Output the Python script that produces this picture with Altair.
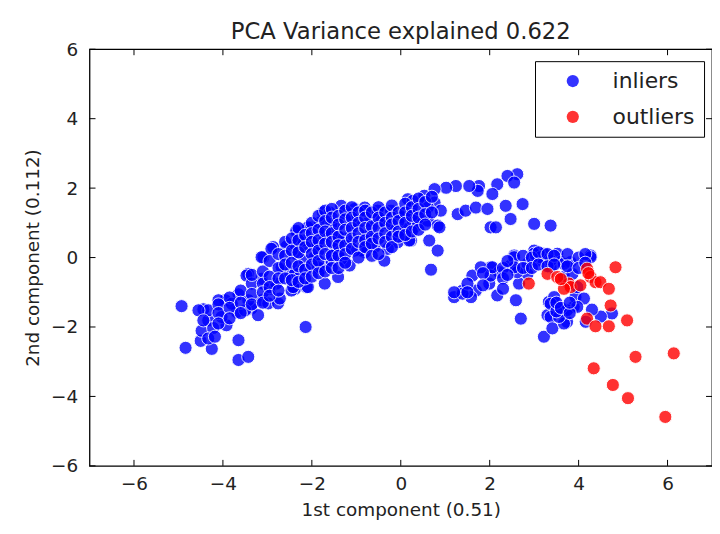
import altair as alt
import pandas as pd

# ---- data ----
inlier_points = [
    (-4.93, -1.40), (-4.84, -2.60), (-4.25, -2.63), (-4.50, -2.40), (-4.48, -2.11), (-4.33, -1.81),
    (-4.44, -1.49), (-4.22, -2.03), (-3.92, -1.95), (-3.65, -2.38), (-3.65, -2.95), (-3.43, -2.86),
    (-3.69, -1.57), (-3.95, -1.23), (-3.65, -1.06), (-3.36, -1.47), (-3.43, -1.23), (-3.13, -1.23),
    (-3.21, -1.66), (-2.98, -1.32), (-2.76, -1.32), (-2.94, -0.90), (-3.43, -0.47), (-3.13, -0.61),
    (-3.09, 0.01), (-2.87, 0.30), (-2.57, 0.32), (-2.80, -0.75), (-2.38, -0.90), (-2.50, -0.47),
    (-2.68, -0.28), (-2.35, 0.11), (-2.35, 0.73), (-2.14, -2.00), (-2.24, -0.37), (-2.72, -1.18),
    (-4.33, -1.52), (-4.55, -1.52), (-4.10, -1.23), (-4.03, -1.71), (-3.80, -1.33), (-3.50, -1.52),
    (-4.33, -2.33), (-4.44, -1.81), (-4.18, -2.28),
    (-1.75, 1.30), (-2.35, 0.77), (-2.91, 0.25), (-3.13, 0.01), (-3.47, -0.52), (-2.01, 0.87),
    (-2.12, 0.39), (-2.46, -0.95), (-2.12, -0.85), (-1.94, -0.09), (-1.71, -0.28), (-1.86, 0.39),
    (-1.56, 0.20), (-1.49, 0.87), (-1.60, 1.30),
    (0.16, 1.68), (-0.22, 1.35), (-0.52, 1.35), (-1.04, 1.40), (-1.34, 1.49), (-1.82, 1.01),
    (-2.09, 0.87), (-1.56, 0.97), (-1.23, 0.54), (-1.90, 0.34), (-1.49, 0.25), (-0.81, 0.15),
    (-0.37, -0.09), (-1.15, -0.23), (-1.41, -0.56), (-1.79, -0.32), (-2.16, -0.09), (-2.38, -0.47),
    (-2.09, -0.85), (-1.71, -0.75), (-2.42, -0.85), (-0.07, 0.44), (0.23, 0.49), (0.12, 0.82),
    (-0.18, 0.77), (-0.74, 0.63), (-0.70, 1.06), (-1.04, 0.97), (-1.34, 0.58), (-1.71, 0.63),
    (-1.94, 0.01), (-1.56, -0.09), (-0.89, 0.20), (-0.59, 0.30), (-0.29, 0.25), (-1.11, 1.25),
    (-0.81, 1.44), (-0.44, 1.06), (0.01, 1.16), (0.27, 1.06), (-2.38, 0.39), (-2.20, 0.49),
    (-1.86, -0.28), (-1.34, -0.04), (-1.04, 0.20), (-2.27, -0.56),
    (2.62, 2.40), (2.40, 2.35), (2.55, 2.16), (2.17, 2.11), (1.76, 2.06), (1.73, 1.92),
    (1.54, 2.06), (1.24, 2.06), (1.02, 2.01), (0.76, 1.97), (0.53, 1.78), (0.76, 1.58),
    (0.61, 1.44), (0.90, 1.35), (0.27, 1.63), (0.27, 1.25), (0.38, 1.01), (0.61, 1.06),
    (0.83, 0.92), (1.28, 1.25), (1.46, 1.35), (1.69, 1.44), (1.95, 1.40), (2.06, 1.83),
    (2.36, 1.49), (2.74, 1.54), (2.47, 1.11), (2.02, 0.87), (2.14, 0.87), (3.00, 0.97),
    (0.64, 0.49), (0.83, 0.20), (0.68, -0.35), (0.19, 0.49), (0.31, 0.87), (3.37, 0.92),
    (-4.1, -1.35), (-4.1, -1.6), (-4.1, -1.9),
    (-3.85, -1.15), (-3.85, -1.45), (-3.85, -1.75),
    (-3.6, -0.95), (-3.6, -1.3), (-3.6, -1.6),
    (-3.35, -0.75), (-3.35, -1.05), (-3.35, -1.35), (-3.35, -0.5),
    (-3.1, -0.4), (-3.1, -0.75), (-3.1, -1.0), (-3.1, -1.3),
    (-2.95, -0.1), (-2.95, -0.55), (-2.95, -0.85), (-2.95, -1.1),
    (-2.75, 0.1), (-2.75, -0.3), (-2.75, -0.6), (-2.75, -0.95),
    (-2.6, 0.45), (-2.6, 0.05), (-2.6, -0.2), (-2.6, -0.6),
    (-2.45, 0.55), (-2.45, 0.2), (-2.45, -0.15), (-2.45, -0.65),
    (-2.3, 0.85), (-2.3, 0.5), (-2.3, 0.15), (-2.3, -0.25), (-2.3, -0.7),
    (-2.15, 0.65), (-2.15, 0.3), (-2.15, -0.35), (-2.15, -0.6),
    (-2.0, 1.0), (-2.0, 0.7), (-2.0, 0.45), (-2.0, 0.1), (-2.0, -0.2), (-2.0, -0.55),
    (-1.85, 1.2), (-1.85, 0.8), (-1.85, 0.5), (-1.85, 0.2), (-1.85, -0.1), (-1.85, -0.45),
    (-1.7, 1.35), (-1.7, 1.05), (-1.7, 0.75), (-1.7, 0.4), (-1.7, 0.1), (-1.7, -0.4),
    (-1.55, 1.4), (-1.55, 1.15), (-1.55, 0.7), (-1.55, 0.45), (-1.55, 0.05), (-1.55, -0.3),
    (-1.4, 1.2), (-1.4, 0.95), (-1.4, 0.6), (-1.4, 0.35), (-1.4, 0.05), (-1.4, -0.3),
    (-1.25, 1.35), (-1.25, 1.1), (-1.25, 0.8), (-1.25, 0.35), (-1.25, 0.1), (-1.25, -0.15),
    (-1.1, 1.45), (-1.1, 1.15), (-1.1, 0.85), (-1.1, 0.55), (-1.1, 0.25),
    (-0.95, 1.3), (-0.95, 1.0), (-0.95, 0.7), (-0.95, 0.45), (-0.95, 0.0),
    (-0.8, 1.35), (-0.8, 1.15), (-0.8, 0.85), (-0.8, 0.5), (-0.8, 0.3),
    (-0.65, 1.3), (-0.65, 0.9), (-0.65, 0.6), (-0.65, 0.4), (-0.65, 0.05),
    (-0.5, 1.45), (-0.5, 1.15), (-0.5, 0.85), (-0.5, 0.55), (-0.5, 0.1),
    (-0.35, 1.3), (-0.35, 1.0), (-0.35, 0.7), (-0.35, 0.45),
    (-0.2, 1.5), (-0.2, 1.15), (-0.2, 0.95), (-0.2, 0.6), (-0.2, 0.3),
    (-0.05, 1.3), (-0.05, 1.05), (-0.05, 0.75), (-0.05, 0.6),
    (0.1, 1.55), (0.1, 1.3), (0.1, 1.0), (0.1, 0.65),
    (0.25, 1.45), (0.25, 1.2), (0.25, 0.75),
    (0.4, 1.7), (0.4, 1.4), (0.4, 1.15), (0.4, 0.8),
    (0.55, 1.6), (0.55, 1.25), (0.55, 0.95),
    (0.7, 1.75), (0.7, 1.3),
    (1.61, -0.52), (1.39, -0.95), (1.69, -0.95), (1.58, -1.14), (2.02, -0.28), (1.99, -0.75),
    (2.17, -1.09), (2.21, -0.42), (2.47, -0.23), (2.55, 0.06), (2.59, -1.23), (2.70, -1.76),
    (3.00, 0.20), (2.85, -0.18), (3.22, 0.11), (2.85, -0.47), (2.66, -0.75), (3.07, -0.09),
    (3.52, 0.11), (3.60, -0.13), (3.82, -0.13), (4.27, 0.06), (3.37, -0.28), (3.33, -1.28),
    (3.52, -1.47), (3.30, -1.66), (3.37, -1.71), (3.67, -1.57), (3.74, -1.85), (3.22, -2.28),
    (3.41, -2.04), (3.89, -1.42), (3.93, -1.14), (4.12, -1.18), (4.75, -1.61), (4.16, -1.85),
    (3.67, -0.56), (3.86, -0.47), (2.02, -0.52), (1.80, -0.28), (2.62, -0.42), (3.67, -0.18),
    (3.97, -0.85), (3.45, -1.14), (1.20, -1.14), (1.39, -1.04), (2.06, -0.28), (2.55, 0.01),
    (2.55, -0.28), (3.67, -1.90), (3.74, -1.52), (3.97, -1.42), (4.27, 0.01), (3.00, 0.11),
    (3.15, 0.01), (3.37, -0.09), (3.37, -1.33), (3.56, -1.71), (1.20, -1.00), (0.87, 0.87),
    (2.3, -0.3), (2.3, -0.6), (2.3, -0.9), (2.4, -0.1), (2.4, -0.5), (2.75, 0.05), (2.75, -0.3),
    (2.95, 0.0), (2.95, -0.3), (3.1, 0.15), (3.1, -0.2), (3.3, 0.1), (3.3, -0.25), (3.45, 0.05),
    (3.45, -0.2), (3.75, 0.1), (3.75, -0.25), (4.0, 0.0), (4.0, -0.3), (4.15, 0.1), (4.15, -0.15),
    (1.85, -0.45), (1.85, -0.8), (1.5, -0.75), (1.5, -1.0), (3.5, -1.55), (3.5, -1.3),
    (3.6, -1.45), (3.8, -1.6), (3.8, -1.3), (4.5, -1.7), (4.3, -1.5),
]

outlier_points = [
    (4.83, -0.28), (2.88, -0.75), (3.30, -0.47), (3.52, -0.56), (3.78, -0.75), (3.82, -0.85),
    (3.67, -0.90), (4.04, -0.80), (4.19, -0.32), (4.27, -0.56), (4.38, -0.71), (4.49, -0.71),
    (4.68, -0.90), (4.72, -1.38), (4.19, -1.76), (4.38, -1.98), (4.68, -1.98), (5.09, -1.81),
    (5.28, -2.86), (6.14, -2.76), (4.34, -3.19), (4.77, -3.67), (5.11, -4.05), (5.95, -4.59),
    (4.22, -0.45), (3.60, -0.62),
]

x_ticks = [-6, -4, -2, 0, 2, 4, 6]
y_ticks = [-6, -4, -2, 0, 2, 4, 6]
groups = ["inliers", "outliers"]
group_colors = ["#0000ff", "#ff0000"]

rows = [{"x": x, "y": y, "group": "inliers"} for x, y in inlier_points]
rows += [{"x": x, "y": y, "group": "outliers"} for x, y in outlier_points]
df = pd.DataFrame(rows)

W, H = 626, 419
FONT = "DejaVu Sans"
TXT = "#222222"

xs = alt.Scale(domain=[-7, 7], nice=False, zero=False)
ys = alt.Scale(domain=[-6, 6], nice=False, zero=False)

points = alt.Chart(df).mark_circle(
    size=175, opacity=0.8, stroke="white", strokeWidth=1
).encode(
    x=alt.X("x:Q", scale=xs, axis=alt.Axis(values=x_ticks, title="1st component (0.51)",
                                           labelPadding=9, titlePadding=7)),
    y=alt.Y("y:Q", scale=ys, axis=alt.Axis(values=y_ticks, title="2nd component (0.112)",
                                           labelPadding=12, titlePadding=8)),
    color=alt.Color(
        "group:N",
        scale=alt.Scale(domain=groups, range=group_colors),
        legend=alt.Legend(
            title=None, orient="none", legendX=448, legendY=12, padding=9,
            strokeColor="black", fillColor="white", cornerRadius=0,
            labelFontSize=22, labelFont=FONT, labelColor=TXT,
            symbolType="circle", symbolSize=150, symbolStrokeWidth=0,
            symbolOpacity=0.8, symbolOffset=18, labelOffset=29, rowPadding=14,
        ),
    ),
)

xt = pd.DataFrame({"x": x_ticks})
yt = pd.DataFrame({"y": y_ticks})
tick_bottom = alt.Chart(xt).mark_rule(color="black").encode(
    x=alt.X("x:Q", scale=xs), y=alt.value(H), y2=alt.value(H - 6))
tick_top = alt.Chart(xt).mark_rule(color="black").encode(
    x=alt.X("x:Q", scale=xs), y=alt.value(0), y2=alt.value(6))
tick_left = alt.Chart(yt).mark_rule(color="black").encode(
    y=alt.Y("y:Q", scale=ys), x=alt.value(0), x2=alt.value(6))
tick_right = alt.Chart(yt).mark_rule(color="black").encode(
    y=alt.Y("y:Q", scale=ys), x=alt.value(W), x2=alt.value(W - 6))

chart = alt.layer(points, tick_bottom, tick_top, tick_left, tick_right).properties(
    width=W, height=H,
    title=alt.TitleParams("PCA Variance explained 0.622", fontSize=22.8, fontWeight="normal",
                          font=FONT, color=TXT, offset=0, dy=4),
    autosize=alt.AutoSizeParams(type="none"),
    padding={"left": 82, "top": 40, "right": 0, "bottom": 58},
).configure_axis(
    labelFont=FONT, titleFont=FONT, labelFontSize=18.5, titleFontSize=18.5,
    titleFontWeight="normal", labelColor=TXT, titleColor=TXT,
    ticks=False, tickSize=0, domain=False, grid=False,
).configure_view(
    stroke="black", strokeWidth=1.3,
)

chart.save("out.html", embed_options={"renderer": "svg", "actions": False})
